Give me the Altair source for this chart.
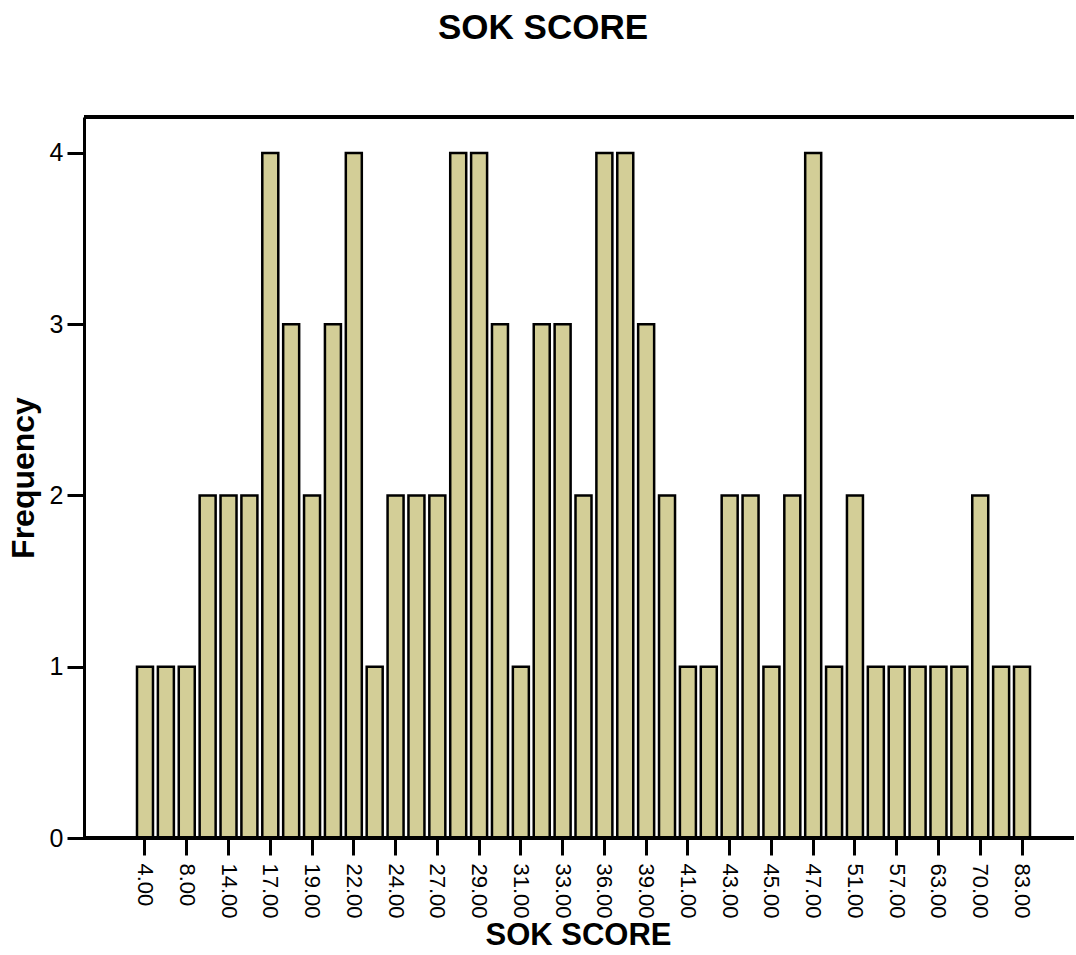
import altair as alt
import pandas as pd

categories = ["4.00", "6.00", "8.00", "11.00", "14.00", "16.00", "17.00", "18.00",
              "19.00", "21.00", "22.00", "23.00", "24.00", "26.00", "27.00", "28.00",
              "29.00", "30.00", "31.00", "32.00", "33.00", "35.00", "36.00", "38.00",
              "39.00", "40.00", "41.00", "42.00", "43.00", "44.00", "45.00", "46.00",
              "47.00", "49.00", "51.00", "54.00", "57.00", "60.00", "63.00", "66.00",
              "70.00", "75.00", "83.00"]
counts = [1, 1, 1, 2, 2, 2, 4, 3, 2, 3, 4, 1, 2, 2, 2, 4, 4, 3, 1, 3, 3, 2,
          4, 4, 3, 2, 1, 1, 2, 2, 1, 2, 4, 1, 2, 1, 1, 1, 1, 1, 2, 1, 1]
shown_labels = categories[::2]
y_ticks = [0, 1, 2, 3, 4]

df = pd.DataFrame({"score": categories, "freq": counts})

FONT = "Liberation Sans"
W, H = 990, 721

bars = alt.Chart(df).mark_bar(
    fill="#D3CE97", stroke="black", strokeWidth=2.5
).encode(
    x=alt.X("score:N", sort=categories,
            scale=alt.Scale(paddingInner=0.234, paddingOuter=0, range=[53, 946]),
            axis=alt.Axis(title="SOK SCORE", values=shown_labels, labelAngle=90,
                          labelAlign="left", labelBaseline="middle",
                          labelFont=FONT, labelFontSize=22, labelColor="black",
                          labelPadding=8, tickSize=17, tickWidth=3, tickColor="black",
                          domain=False,
                          titleFont=FONT, titleFontSize=31, titleFontWeight="bold",
                          titleColor="black", titlePadding=2, titleX=W / 2 - 1,
                          grid=False)),
    y=alt.Y("freq:Q", scale=alt.Scale(domain=[0, 4.21], nice=False),
            axis=alt.Axis(title="Frequency", values=y_ticks, format="d",
                          labelFont=FONT, labelFontSize=25, labelColor="black",
                          labelPadding=4, tickSize=17, tickWidth=3, tickColor="black",
                          domainColor="black", domainWidth=3,
                          titleFont=FONT, titleFontSize=32, titleFontWeight="bold",
                          titleColor="black", titlePadding=9, grid=False)),
)

top_line = alt.Chart(df).mark_rule(color="black", strokeWidth=3).encode(
    y=alt.value(0)
)
bottom_line = alt.Chart(df).mark_rule(color="black", strokeWidth=3).encode(
    y=alt.value(H)
)

chart = alt.layer(bars, top_line, bottom_line).properties(
    width=W, height=H,
    title=alt.TitleParams("SOK SCORE", font=FONT, fontSize=35, fontWeight="bold",
                          color="black", anchor="middle", dx=-36, offset=70),
    autosize=alt.AutoSizeParams(type="none"),
    padding={"left": 84, "top": 117, "right": 0, "bottom": 118},
).configure_view(stroke=None).configure(background="white")

chart.save("out.html", embed_options={"renderer": "svg", "actions": False})
